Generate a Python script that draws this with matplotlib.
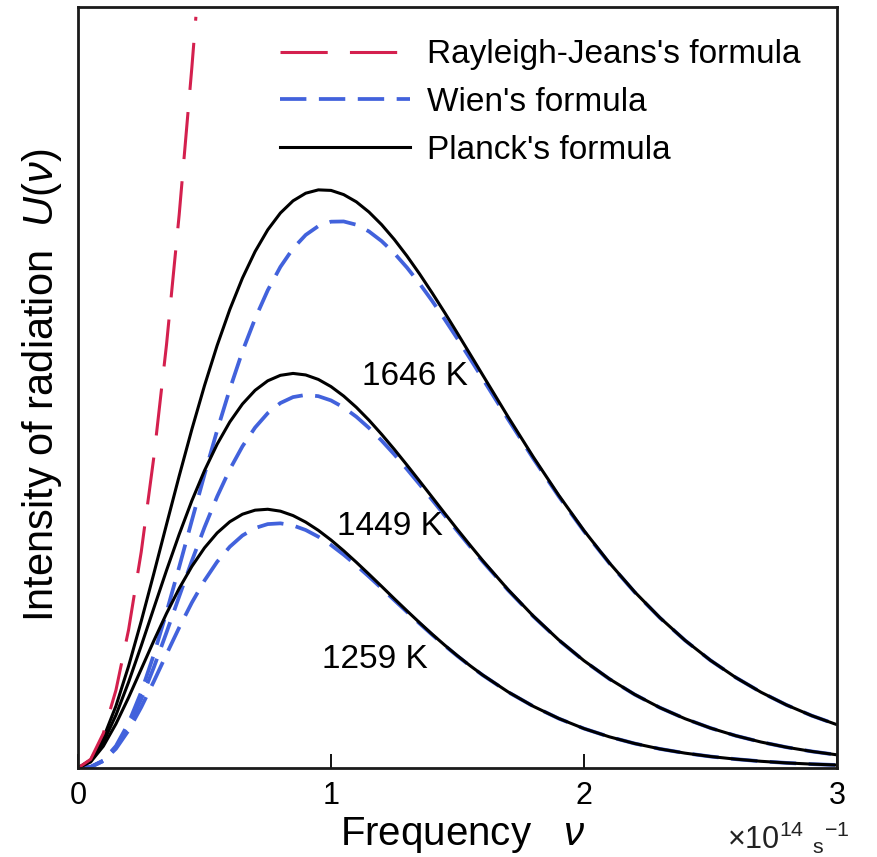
import matplotlib
matplotlib.use('Agg')
import matplotlib.pyplot as plt
from matplotlib.lines import Line2D

plt.rcParams['font.family'] = ['Liberation Sans', 'DejaVu Sans']
plt.rcParams['mathtext.fontset'] = 'custom'
plt.rcParams['mathtext.rm'] = 'Liberation Sans'
plt.rcParams['mathtext.it'] = 'Liberation Sans:italic'
plt.rcParams['lines.scale_dashes'] = False

# frequency grid (x10^14 s^-1) and intensities (arbitrary units)
nu = [0.0, 0.05, 0.1, 0.15, 0.2, 0.25, 0.3, 0.35, 0.4, 0.45, 0.5, 0.55, 0.6, 0.65, 0.7, 0.75,
      0.8, 0.85, 0.9, 0.95, 1.0, 1.05, 1.1, 1.15, 1.2, 1.25, 1.3, 1.35, 1.4, 1.45, 1.5, 1.55,
      1.6, 1.7, 1.8, 1.9, 2.0, 2.1, 2.2, 2.3, 2.4, 2.5, 2.6, 2.7, 2.8, 2.9, 3.0]

planck_1646 = [0, 0.0106, 0.0392, 0.0815, 0.1339, 0.1930, 0.2559, 0.3202, 0.3838, 0.4450, 0.5025,
               0.5553, 0.6025, 0.6438, 0.6787, 0.7072, 0.7293, 0.7453, 0.7553, 0.7597, 0.7590,
               0.7535, 0.7440, 0.7306, 0.7140, 0.6946, 0.6729, 0.6493, 0.6242, 0.5981, 0.5711,
               0.5437, 0.5162, 0.4614, 0.4085, 0.3585, 0.3120, 0.2697, 0.2315, 0.1976, 0.1676,
               0.1415, 0.1189, 0.0995, 0.0829, 0.0688, 0.0569]
wien_1646 = [0, 0.0014, 0.0099, 0.0289, 0.0592, 0.0999, 0.1492, 0.2048, 0.2642, 0.3252, 0.3856,
             0.4436, 0.4978, 0.5475, 0.5905, 0.6278, 0.6585, 0.6827, 0.7005, 0.7121, 0.7179,
             0.7182, 0.7139, 0.7051, 0.6924, 0.6765, 0.6577, 0.6366, 0.6137, 0.5893, 0.5639,
             0.5378, 0.5113, 0.4582, 0.4064, 0.3570, 0.3111, 0.2691, 0.2311, 0.1973, 0.1675,
             0.1414, 0.1189, 0.0995, 0.0829, 0.0688, 0.0569]

planck_1449 = [0, 0.0092, 0.0338, 0.0695, 0.1129, 0.1607, 0.2104, 0.2598, 0.3071, 0.3512, 0.3908,
               0.4255, 0.4547, 0.4783, 0.4963, 0.5088, 0.5160, 0.5185, 0.5165, 0.5106, 0.5012,
               0.4888, 0.4740, 0.4571, 0.4385, 0.4188, 0.3982, 0.3771, 0.3558, 0.3344, 0.3133,
               0.2927, 0.2725, 0.2344, 0.1996, 0.1684, 0.1410, 0.1172, 0.0967, 0.0793, 0.0647,
               0.0525, 0.0424, 0.0341, 0.0273, 0.0218, 0.0173]
wien_1449 = [0, 0.0014, 0.0095, 0.0272, 0.0547, 0.0905, 0.1325, 0.1783, 0.2255, 0.2721, 0.3162,
             0.3567, 0.3924, 0.4227, 0.4474, 0.4663, 0.4796, 0.4874, 0.4903, 0.4886, 0.4830,
             0.4738, 0.4616, 0.4469, 0.4303, 0.4121, 0.3928, 0.3728, 0.3523, 0.3317, 0.3112,
             0.2909, 0.2712, 0.2336, 0.1991, 0.1681, 0.1408, 0.1170, 0.0966, 0.0793, 0.0647,
             0.0525, 0.0424, 0.0341, 0.0273, 0.0218, 0.0173]

planck_1259 = [0, 0.0079, 0.0286, 0.0580, 0.0927, 0.1300, 0.1674, 0.2032, 0.2360, 0.2649, 0.2893,
               0.3089, 0.3236, 0.3335, 0.3388, 0.3400, 0.3375, 0.3317, 0.3231, 0.3123, 0.2996,
               0.2855, 0.2704, 0.2547, 0.2387, 0.2225, 0.2066, 0.1910, 0.1758, 0.1613, 0.1475,
               0.1344, 0.1221, 0.1000, 0.0810, 0.0651, 0.0518, 0.0410, 0.0322, 0.0251, 0.0195,
               0.0151, 0.0116, 0.0088, 0.0067, 0.0051, 0.0039]
wien_1259 = [0, 0.0014, 0.0091, 0.0253, 0.0495, 0.0799, 0.1140, 0.1497, 0.1846, 0.2173, 0.2463,
             0.2710, 0.2907, 0.3055, 0.3153, 0.3205, 0.3215, 0.3187, 0.3127, 0.3039, 0.2930,
             0.2803, 0.2664, 0.2515, 0.2362, 0.2206, 0.2051, 0.1899, 0.1750, 0.1607, 0.1470,
             0.1341, 0.1219, 0.0998, 0.0810, 0.0650, 0.0518, 0.0410, 0.0322, 0.0251, 0.0195,
             0.0151, 0.0116, 0.0088, 0.0067, 0.0051, 0.0039]

rj_nu = [0, 0.05, 0.1, 0.15, 0.2, 0.25, 0.3, 0.35, 0.4, 0.45, 0.466]
rj_1646 = [0, 0.0114, 0.0455, 0.1023, 0.1818, 0.2841, 0.4091, 0.5568, 0.7273, 0.9204, 0.9871]

temps = ['1646 K', '1449 K', '1259 K']
temp_pos = [(1.123, 0.514), (1.024, 0.317), (0.964, 0.142)]
xticks = [0, 1, 2, 3]
legend_labels = ["Rayleigh-Jeans's formula", "Wien's formula", "Planck's formula"]

RED = '#d4204e'
BLUE = '#4262dc'
rj_dash = (34, 16)
wien_dash = (19, 9)

fig = plt.figure(figsize=(8.77, 8.57), dpi=100)
ax = fig.add_axes([78/877, 89/857, 759/877, 761/857])

for w in (wien_1646, wien_1449, wien_1259):
    ax.plot(nu, w, color=BLUE, lw=2.7, dashes=wien_dash)
for p in (planck_1646, planck_1449, planck_1259):
    ax.plot(nu, p, color='black', lw=2.2)
ax.plot(rj_nu, rj_1646, color=RED, lw=2.2, dashes=rj_dash)

for lab, (x, y) in zip(temps, temp_pos):
    ax.text(x, y, lab, fontsize=24, va='center', ha='left')

ax.set_xlim(0, 3)
ax.set_ylim(0, 1)
ax.set_xticks(xticks)
ax.set_xticklabels([str(t) for t in xticks])
ax.set_yticks([])
ax.tick_params(axis='x', direction='in', length=10, width=1.3, labelsize=22, pad=9)
for s in ax.spines.values():
    s.set_linewidth(2.0)
    s.set_color('#1a1a1a')

ax.set_xlabel('Frequency   $\\nu$', fontsize=29)
ax.xaxis.set_label_coords(0.507, -0.062)
ax.set_ylabel('Intensity of radiation  $U(\\nu)$', fontsize=30)
ax.yaxis.set_label_coords(-0.019, 0.503)
ax.text(0.855, -0.068, r'$\times$10$^{14}$ ${}_{\mathregular{s}}{}^{\mathregular{-1}}$',
        transform=ax.transAxes, fontsize=22, ha='left', va='top', color='#222222')

handles = [Line2D([], [], color=RED, lw=2.2, dashes=rj_dash),
           Line2D([], [], color=BLUE, lw=2.7, dashes=wien_dash),
           Line2D([], [], color='black', lw=2.2)]
ax.legend(handles, legend_labels, loc='upper left', bbox_to_anchor=(0.236, 0.988),
          frameon=False, fontsize=24, handlelength=3.9, handletextpad=0.5,
          labelspacing=0.5, borderaxespad=0.3)

fig.savefig('out.png', dpi=100)
